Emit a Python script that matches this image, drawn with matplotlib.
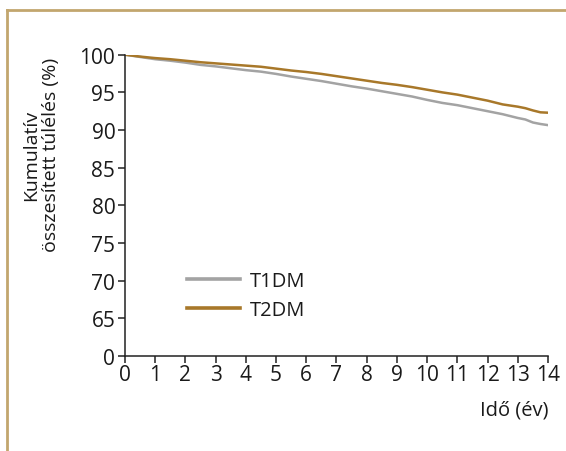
import matplotlib
matplotlib.use("Agg")
import matplotlib.pyplot as plt
from matplotlib.lines import Line2D

plt.rcParams['font.family'] = ['Open Sans', 'DejaVu Sans']

years = [0, 0.5, 1, 1.5, 2, 2.5, 3, 3.5, 4, 4.5, 5, 5.5, 6, 6.5, 7, 7.5, 8, 8.5,
         9, 9.5, 10, 10.5, 11, 11.5, 12, 12.5, 13, 13.25, 13.5, 13.75, 14]
t1dm = [100, 99.7, 99.4, 99.2, 98.95, 98.65, 98.45, 98.2, 97.95, 97.75, 97.45, 97.1,
        96.8, 96.5, 96.15, 95.8, 95.5, 95.15, 94.8, 94.45, 94.0, 93.6, 93.3, 92.9,
        92.5, 92.1, 91.6, 91.4, 91.0, 90.8, 90.65]
t2dm = [100, 99.75, 99.55, 99.4, 99.2, 99.0, 98.85, 98.7, 98.55, 98.4, 98.15, 97.9,
        97.7, 97.45, 97.15, 96.85, 96.55, 96.25, 96.0, 95.7, 95.35, 95.0, 94.7, 94.3,
        93.9, 93.4, 93.1, 92.9, 92.6, 92.35, 92.3]
ytick_pos = [60, 65, 70, 75, 80, 85, 90, 95, 100]
ytick_labels = ["0", "65", "70", "75", "80", "85", "90", "95", "100"]
xticks = list(range(0, 15))
series_names = ["T1DM", "T2DM"]

grey = "#a3a3a3"
brown = "#a8782a"
border = "#c2a66e"

fig = plt.figure(figsize=(5.66, 4.52), dpi=100)
ax = fig.add_axes([125/566, 1-357/452, (548-125)/566, (357-55.7)/452])

ax.plot(years, t1dm, color=grey, lw=1.8)
ax.plot(years, t2dm, color=brown, lw=1.8)

ax.set_xlim(0, 14)
ax.set_ylim(60, 100)
ax.set_xticks(xticks)
ax.set_xticklabels([str(x) for x in xticks])
ax.set_yticks(ytick_pos)
ax.set_yticklabels(ytick_labels)
for s in ['top', 'right']:
    ax.spines[s].set_visible(False)
for s in ['left', 'bottom']:
    ax.spines[s].set_linewidth(1.1)
    ax.spines[s].set_color('#222222')
ax.tick_params(direction='out', length=5, width=1.1, labelsize=15, pad=2, colors='#222222')
ax.tick_params(axis='x', pad=1)
for lbl in ax.get_xticklabels() + ax.get_yticklabels():
    lbl.set_color('#1a1a1a')

# legend
handles = [Line2D([], [], color=grey, lw=2.6), Line2D([], [], color=brown, lw=2.6)]
leg = ax.legend(handles, series_names, loc='upper left', bbox_to_anchor=(0.128, 0.31),
                frameon=False, fontsize=14.5, handlelength=2.6, handletextpad=0.5,
                labelspacing=0.45, borderaxespad=0)
for t in leg.get_texts():
    t.set_color('#1a1a1a')

fig.text(41/566, 1-155/452, "Kumulatív\nösszesített túlélés (%)", rotation=90,
         ha='center', va='center', fontsize=14, color='#1a1a1a', linespacing=1.1,
         multialignment='center')
fig.text(548/566, 1-411/452, "Idő (év)", ha='right', va='center', fontsize=14.5,
         color='#1a1a1a')

# border
fig.add_artist(Line2D([7/566, 7/566], [0, 1-11/452], color=border, lw=2,
                      transform=fig.transFigure))
fig.add_artist(Line2D([7/566, 1], [1-11/452, 1-11/452], color=border, lw=2,
                      transform=fig.transFigure))

fig.savefig("out.png", dpi=100)
